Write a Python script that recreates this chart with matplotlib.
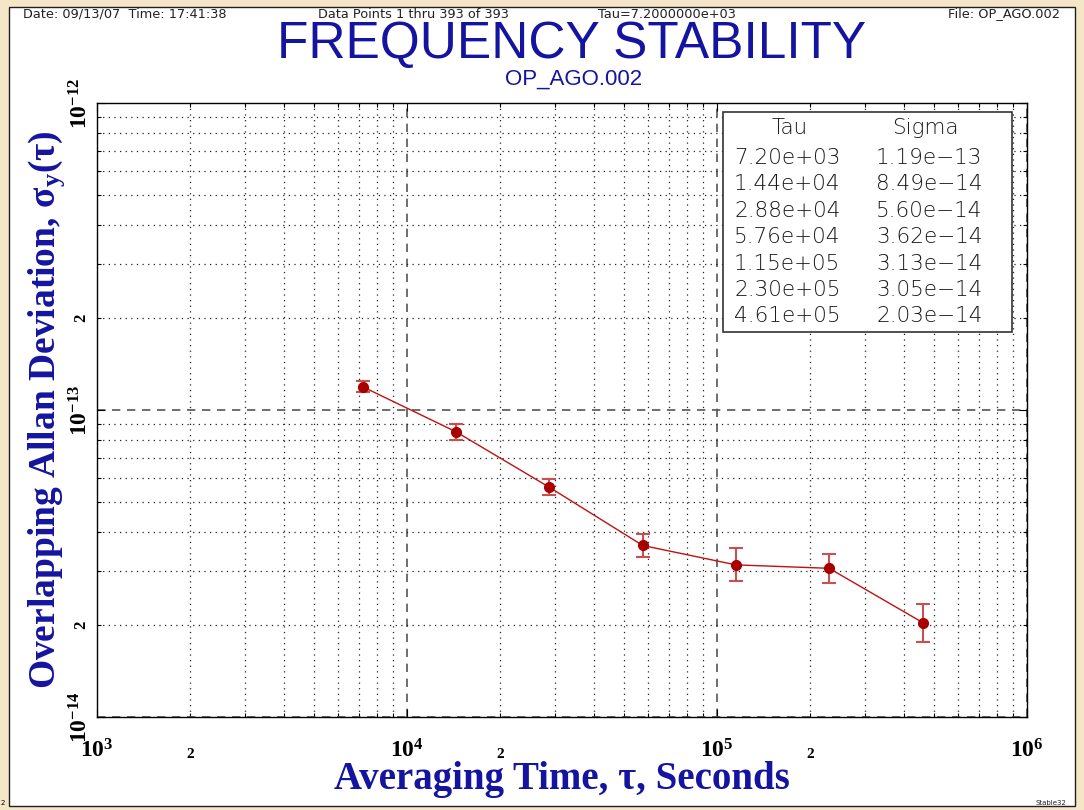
import numpy as np
import matplotlib
matplotlib.use("Agg")
import matplotlib.pyplot as plt
from matplotlib.patches import Rectangle
from matplotlib.ticker import FixedLocator, NullFormatter

# --------------------------------------------------------------------------------
# DATA

tau = [7.20e3, 1.44e4, 2.88e4, 5.76e4, 1.15e5, 2.30e5, 4.61e5]
sigma = [1.19e-13, 8.49e-14, 5.60e-14, 3.62e-14, 3.13e-14, 3.05e-14, 2.03e-14]
err_lo = [4.8e-15, 5.0e-15, 3.3e-15, 3.0e-15, 3.6e-15, 3.1e-15, 2.7e-15]
err_hi = [5.0e-15, 5.3e-15, 3.5e-15, 3.3e-15, 4.1e-15, 3.5e-15, 3.1e-15]

tau_txt = ["7.20e+03", "1.44e+04", "2.88e+04", "5.76e+04", "1.15e+05", "2.30e+05", "4.61e+05"]
sigma_txt = ["1.19e\u221213", "8.49e\u221214", "5.60e\u221214", "3.62e\u221214",
             "3.13e\u221214", "3.05e\u221214", "2.03e\u221214"]

x_major = [1e3, 1e4, 1e5, 1e6]
x_major_lbl = ["3", "4", "5", "6"]
x_two = [2e3, 2e4, 2e5]
y_major = [1e-14, 1e-13, 1e-12]
y_major_lbl = ["-14", "-13", "-12"]
y_two = [2e-14, 2e-13]

header = ["Date: 09/13/07  Time: 17:41:38", "Data Points 1 thru 393 of 393",
          "Tau=7.2000000e+03", "File: OP_AGO.002"]

blue = "#1414a0"
red = "#a80000"

plt.rcParams["mathtext.fontset"] = "custom"
plt.rcParams["mathtext.rm"] = "Liberation Serif:bold"
plt.rcParams["mathtext.it"] = "Liberation Serif:italic"
plt.rcParams["mathtext.bf"] = "Liberation Serif:bold"

# --------------------------------------------------------------------------------
# FIGURE + FRAME

fig = plt.figure(figsize=(10.84, 8.10), dpi=100, facecolor="#f4e6c6")
fig.patches.append(Rectangle((9 / 1084, 1 - 806 / 810), 1066 / 1084, 799 / 810,
                             transform=fig.transFigure, facecolor="white",
                             edgecolor="#202020", linewidth=1.0, zorder=-5))

ax = fig.add_axes([97 / 1084, 1 - 717 / 810, 930 / 1084, 614 / 810])
ax.set_xscale("log")
ax.set_yscale("log")
ax.set_xlim(1e3, 1e6)
ax.set_ylim(1e-14, 1e-12)

# grids: decades dashed, the rest dotted
ax.xaxis.set_major_locator(FixedLocator(x_major))
ax.yaxis.set_major_locator(FixedLocator(y_major))
ax.xaxis.set_minor_locator(FixedLocator([m * 10.0 ** e for e in range(3, 6) for m in range(2, 10)]))
ax.yaxis.set_minor_locator(FixedLocator([m * 10.0 ** e for e in range(-14, -12) for m in range(2, 10)]))
ax.xaxis.set_major_formatter(NullFormatter())
ax.yaxis.set_major_formatter(NullFormatter())
ax.xaxis.set_minor_formatter(NullFormatter())
ax.yaxis.set_minor_formatter(NullFormatter())
ax.grid(which="major", color="#555555", linestyle=(0, (5, 4)), linewidth=1.2)
ax.grid(which="minor", color="#222222", linestyle=(0, (1, 3.5)), linewidth=0.9)
ax.tick_params(which="both", direction="in", top=True, right=True, length=6, width=0.8)
ax.tick_params(which="minor", length=3)
for s in ax.spines.values():
    s.set_linewidth(1.0)

# custom tick labels
for v, e in zip(x_major, x_major_lbl):
    ax.text(v, -0.035, r"$\mathbf{10^{%s}}$" % e, transform=ax.get_xaxis_transform(),
            ha="center", va="top", fontsize=17)
for v in x_two:
    ax.text(v, -0.05, "2", transform=ax.get_xaxis_transform(), ha="center", va="top",
            fontsize=11, fontweight="bold", family="Liberation Serif")
for v, e in zip(y_major, y_major_lbl):
    ax.text(-0.005, v, r"$\mathbf{10^{%s}}$" % e, transform=ax.get_yaxis_transform(),
            ha="right", va="center", rotation=90, fontsize=17)
for v in y_two:
    ax.text(-0.008, v, "2", transform=ax.get_yaxis_transform(), ha="right", va="center",
            rotation=90, fontsize=12, fontweight="bold", family="Liberation Serif")

# data
ax.plot(tau, sigma, color="#c01010", linewidth=1.0, zorder=3)
ax.errorbar(tau, sigma, yerr=[err_lo, err_hi], fmt="none", ecolor="#c85050",
            elinewidth=1.5, capsize=5, capthick=1.5, zorder=4)
ax.plot(tau, sigma, "o", color=red, markersize=7, zorder=5)

# table box
box = Rectangle((723 / 1084, 1 - 332 / 810), 289 / 1084, 220 / 810, transform=fig.transFigure,
                facecolor="white", edgecolor="#333333", linewidth=1.2, zorder=5)
fig.patches.append(box)
tfont = dict(family="DejaVu Sans", fontsize=15.5, fontweight="light", color="#1a1a1a", zorder=6)
fig.text(790 / 1084, 1 - 128 / 810, "Tau", ha="center", va="center", **tfont)
fig.text(925 / 1084, 1 - 128 / 810, "Sigma", ha="center", va="center", **tfont)
for i in range(len(tau_txt)):
    yy = 1 - (158 + i * 26.4) / 810
    fig.text(734 / 1084, yy, tau_txt[i], ha="left", va="center", **tfont)
    fig.text(876 / 1084, yy, sigma_txt[i], ha="left", va="center", **tfont)

# labels
ax.set_xlabel("Averaging Time, \u03c4, Seconds", family="Liberation Serif", fontsize=28,
              fontweight="bold", color=blue, labelpad=28)
fig.text(47 / 1084, 1 - 410 / 810, r"Overlapping Allan Deviation, $\mathrm{\sigma_y(\tau)}$",
         family="Liberation Serif", fontsize=27, fontweight="bold", color=blue, rotation=90,
         ha="center", va="center")

fig.text(572 / 1084, 1 - 44 / 810, "FREQUENCY STABILITY", family="Liberation Sans",
         fontsize=37, color=blue, ha="center", va="center")
fig.text(574 / 1084, 1 - 79 / 810, "OP_AGO.002", family="Liberation Sans",
         fontsize=16, color=blue, ha="center", va="center")

hfont = dict(family="DejaVu Sans", fontsize=9.3, color="#222222", va="center")
fig.text(23 / 1084, 1 - 14 / 810, header[0], ha="left", **hfont)
fig.text(318 / 1084, 1 - 14 / 810, header[1], ha="left", **hfont)
fig.text(598 / 1084, 1 - 14 / 810, header[2], ha="left", **hfont)
fig.text(1060 / 1084, 1 - 14 / 810, header[3], ha="right", **hfont)
fig.text(1066 / 1084, 1 - 803 / 810, "Stable32", family="DejaVu Sans", fontsize=5,
         ha="right", va="center", color="#222222")
fig.text(1 / 1084, 1 - 803 / 810, "2", family="DejaVu Sans", fontsize=5, ha="left", va="center")

fig.savefig("out.png", dpi=100, facecolor=fig.get_facecolor())
